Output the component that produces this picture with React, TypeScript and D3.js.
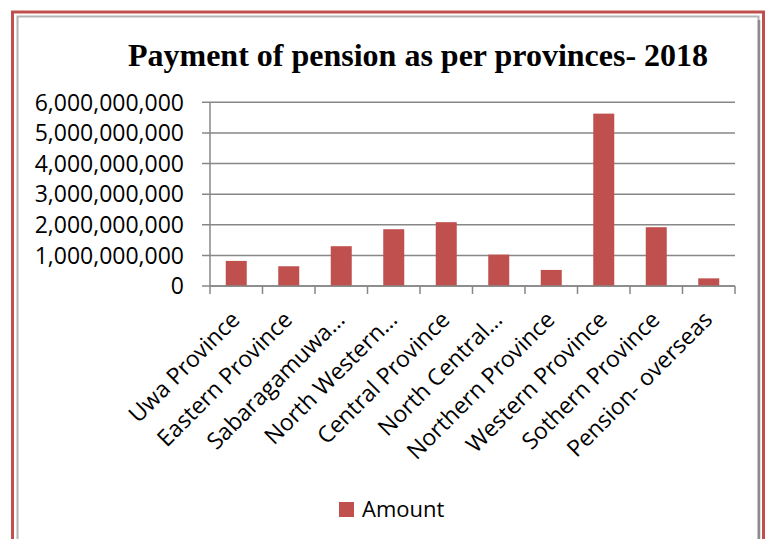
import { useEffect, useRef } from 'react';
import * as d3 from 'd3';

const provinces = [
  'Uwa Province',
  'Eastern Province',
  'Sabaragamuwa…',
  'North Western…',
  'Central Province',
  'North Central…',
  'Northern Province',
  'Western Province',
  'Sothern Province',
  'Pension- overseas',
];

const amounts = [
  820000000, 645000000, 1300000000, 1855000000, 2085000000, 1025000000, 525000000, 5630000000,
  1920000000, 250000000,
];

const yTicks = [0, 1000000000, 2000000000, 3000000000, 4000000000, 5000000000, 6000000000];

const seriesName = 'Amount';
const chartTitle = 'Payment of pension as per provinces- 2018';

const PensionChart = ({ width = 769, height = 539 }: { width?: number; height?: number }) => {
  const ref = useRef<SVGSVGElement | null>(null);

  useEffect(() => {
    if (!ref.current) return;
    const svg = d3.select(ref.current);
    svg.selectAll('*').remove();

    const red = '#c0504d';
    const grey = '#878787';
    const font = "'Open Sans', sans-serif";

    // frame: red outer border with a grey shadow inside
    svg.append('rect').attr('width', width).attr('height', height).attr('fill', '#fff');
    svg
      .append('rect')
      .attr('x', 12.5)
      .attr('y', 12)
      .attr('width', 751)
      .attr('height', height)
      .attr('fill', 'none')
      .attr('stroke', red)
      .attr('stroke-width', 3);
    svg
      .append('path')
      .attr('d', `M17.5,${height} V16.5 H758.5 V${height}`)
      .attr('fill', 'none')
      .attr('stroke', '#b4b4b4')
      .attr('stroke-width', 2);
    svg
      .append('line')
      .attr('x1', 759)
      .attr('x2', 759)
      .attr('y1', 20)
      .attr('y2', height)
      .attr('stroke', '#8c8c8c')
      .attr('stroke-width', 2.5);

    svg
      .append('text')
      .attr('x', 418)
      .attr('y', 66)
      .attr('text-anchor', 'middle')
      .attr('font-family', "'Liberation Serif', 'Times New Roman', serif")
      .attr('font-weight', 'bold')
      .attr('font-size', 32)
      .text(chartTitle);

    const left = 210;
    const right = 735;
    const top = 102.3;
    const bottom = 286;

    const x = d3.scaleBand().domain(provinces).range([left, right]).padding(0);
    const y = d3.scaleLinear().domain([0, 6000000000]).range([bottom, top]);
    const fmt = d3.format(',');

    // gridlines
    svg
      .append('g')
      .selectAll('line')
      .data(yTicks)
      .enter()
      .append('line')
      .attr('x1', left - 8)
      .attr('x2', right)
      .attr('y1', (d) => y(d))
      .attr('y2', (d) => y(d))
      .attr('stroke', grey)
      .attr('stroke-width', 1.5);

    // y labels
    svg
      .append('g')
      .selectAll('text')
      .data(yTicks)
      .enter()
      .append('text')
      .attr('x', 184)
      .attr('y', (d) => y(d))
      .attr('dy', '0.36em')
      .attr('text-anchor', 'end')
      .attr('font-family', font)
      .attr('font-size', 23)
      .attr('fill', '#000')
      .text((d) => fmt(d));

    // bars
    const barW = x.bandwidth() * 0.4;
    svg
      .append('g')
      .selectAll('rect')
      .data(amounts)
      .enter()
      .append('rect')
      .attr('x', (_, i) => (x(provinces[i]) ?? 0) + (x.bandwidth() - barW) / 2)
      .attr('y', (d) => y(d))
      .attr('width', barW)
      .attr('height', (d) => bottom - y(d))
      .attr('fill', red);

    // axes lines
    svg
      .append('line')
      .attr('x1', left)
      .attr('x2', left)
      .attr('y1', top)
      .attr('y2', bottom)
      .attr('stroke', grey)
      .attr('stroke-width', 1.5);
    svg
      .append('line')
      .attr('x1', left)
      .attr('x2', right)
      .attr('y1', bottom)
      .attr('y2', bottom)
      .attr('stroke', grey)
      .attr('stroke-width', 1.5);

    const xTickPos = provinces.map((p) => x(p) ?? 0).concat([right]);
    svg
      .append('g')
      .selectAll('line')
      .data(xTickPos)
      .enter()
      .append('line')
      .attr('x1', (d) => d)
      .attr('x2', (d) => d)
      .attr('y1', bottom)
      .attr('y2', bottom + 8)
      .attr('stroke', grey)
      .attr('stroke-width', 1.5);

    // rotated category labels
    svg
      .append('g')
      .selectAll('text')
      .data(provinces)
      .enter()
      .append('text')
      .attr('transform', (d) => `translate(${(x(d) ?? 0) + x.bandwidth() / 2 + 5},${bottom + 35}) rotate(-45)`)
      .attr('text-anchor', 'end')
      .attr('font-family', font)
      .attr('font-size', 23)
      .attr('fill', '#000')
      .text((d) => d);

    // legend
    svg
      .append('rect')
      .attr('x', 339)
      .attr('y', 502)
      .attr('width', 15)
      .attr('height', 15)
      .attr('fill', red);
    svg
      .append('text')
      .attr('x', 362)
      .attr('y', 517)
      .attr('font-family', font)
      .attr('font-size', 22)
      .attr('fill', '#000')
      .text(seriesName);
  }, [width, height]);

  return (
    <svg
      ref={ref}
      width={width}
      height={height}
      style={{ position: 'absolute', left: 0, top: 0 }}
      role="img"
      aria-label="Payment of pension as per provinces"
    />
  );
};

export default function App() {
  return <PensionChart />;
}
